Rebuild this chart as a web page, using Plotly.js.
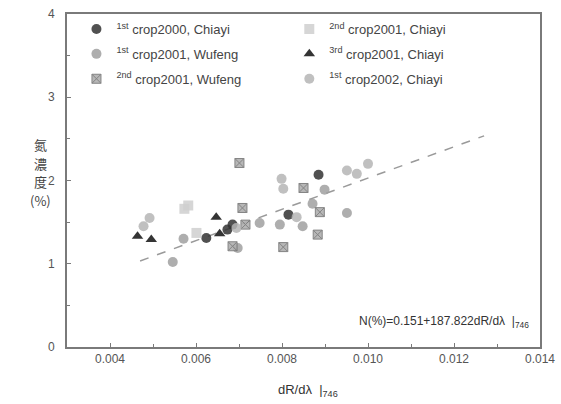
<!DOCTYPE html>
<html>
<head>
<meta charset="utf-8">
<script src="https://cdn.plot.ly/plotly-3.0.1.min.js"></script>
<style>html,body{margin:0;padding:0;background:#fff}#chart{width:561px;height:404px}</style>
</head>
<body>
<div id="chart"></div>
<script>
// Series data
const c2000Chiayi_x = [0.00624, 0.00673, 0.00685, 0.00815, 0.00885];
const c2000Chiayi_y = [1.31, 1.41, 1.47, 1.59, 2.07];

const c2001Chiayi2_x = [0.00573, 0.00582, 0.00601];
const c2001Chiayi2_y = [1.66, 1.70, 1.37];

const c2001Wufeng1_x = [0.00546, 0.00571, 0.00697, 0.00748, 0.00795, 0.00848, 0.00871, 0.00951, 0.00899];
const c2001Wufeng1_y = [1.02, 1.30, 1.19, 1.49, 1.47, 1.45, 1.72, 1.61, 1.89];

const c2001Chiayi3_x = [0.00464, 0.00496, 0.00647, 0.00655];
const c2001Chiayi3_y = [1.33, 1.29, 1.56, 1.36];

const c2001Wufeng2_x = [0.00701, 0.00850, 0.00888, 0.00708, 0.00715, 0.00685, 0.00803, 0.00883];
const c2001Wufeng2_y = [2.21, 1.91, 1.62, 1.67, 1.47, 1.21, 1.20, 1.35];

const c2002Chiayi1_x = [0.00492, 0.00478, 0.00799, 0.00803, 0.00834, 0.00951, 0.00974, 0.01000, 0.00694];
const c2002Chiayi1_y = [1.55, 1.45, 2.02, 1.90, 1.56, 2.12, 2.08, 2.20, 1.43];

const fitIntercept = 0.151;
const fitSlope = 187.822;
const fitX = [0.0047, 0.0127];

const xTicks = [0.004, 0.006, 0.008, 0.010, 0.012, 0.014];
const yTicks = [0, 1, 2, 3, 4];
const yTitleChars = ['氮', '濃', '度', '(%)'];

const legendFont = {family: 'Liberation Sans, Arial, sans-serif', size: 13, color: '#444'};

function tr(x, y, name, symbol, color, legend, group, extra) {
  return Object.assign({
    type: 'scatter', mode: 'markers', x: x, y: y, name: name,
    legend: legend, legendgroup: group,
    marker: {symbol: symbol, size: 10, color: color, opacity: 0.85, line: {width: 0}}
  }, extra || {});
}

const traces = [
  {type: 'scatter', mode: 'lines', x: fitX, y: fitX.map(v => fitIntercept + fitSlope * v),
   line: {color: '#9a9a9a', width: 1.5, dash: 'dash'}, showlegend: false, hoverinfo: 'skip'},
  tr(c2000Chiayi_x, c2000Chiayi_y, '<sup>1st</sup> crop2000, Chiayi', 'circle', '#333333', 'legend', 'g1'),
  tr(c2001Wufeng1_x, c2001Wufeng1_y, '<sup>1st</sup> crop2001, Wufeng', 'circle', '#a0a0a0', 'legend', 'g2'),
  tr(c2001Wufeng2_x, c2001Wufeng2_y, '<sup>2nd</sup> crop2001, Wufeng', 'square-x', '#8a8a8a', 'legend', 'g3',
     {marker: {symbol: 'square-x', size: 9, color: '#b0b0b0', opacity: 0.9, line: {width: 1, color: '#777'}}}),
  tr(c2001Chiayi2_x, c2001Chiayi2_y, '<sup>2nd</sup> crop2001, Chiayi', 'square', '#cfcfcf', 'legend2', 'g4'),
  tr(c2001Chiayi3_x, c2001Chiayi3_y, '<sup>3rd</sup> crop2001, Chiayi', 'triangle-up', '#111111', 'legend2', 'g5'),
  tr(c2002Chiayi1_x, c2002Chiayi1_y, '<sup>1st</sup> crop2002, Chiayi', 'circle', '#b5b5b5', 'legend2', 'g6')
];

const axisBase = {
  showgrid: false, zeroline: false, showline: true, linecolor: '#7a7a7a', linewidth: 2,
  mirror: true, ticks: 'inside', ticklen: 4, tickcolor: '#7a7a7a', tickwidth: 1,
  tickfont: {family: 'Liberation Sans, Arial, sans-serif', size: 12, color: '#555'}
};

const annotations = [
  {xref: 'paper', yref: 'paper', x: 0.98, y: 0.075, xanchor: 'right', yanchor: 'middle', showarrow: false,
   text: 'N(%)=0.151+187.822dR/dλ  |<sub>746</sub>', font: {family: 'Liberation Sans, Arial, sans-serif', size: 12, color: '#333'}},
  {xref: 'paper', yref: 'paper', x: 0.51, y: -0.13, xanchor: 'center', yanchor: 'middle', showarrow: false,
   text: 'dR/dλ  |<sub>746</sub>', font: {family: 'Liberation Sans, Arial, sans-serif', size: 13, color: '#333'}}
];
const yTitlePx = [144, 163, 182, 200];
yTitleChars.forEach((c, i) => {
  annotations.push({xref: 'paper', yref: 'paper', x: -0.057, y: (347 - yTitlePx[i]) / 333,
    xanchor: 'center', yanchor: 'middle', showarrow: false, text: c,
    font: {family: 'Noto Sans CJK TC, sans-serif', size: 13, color: '#444'}});
});

const layout = {
  width: 561, height: 404,
  margin: {l: 67, r: 21, t: 14, b: 57},
  paper_bgcolor: '#fff', plot_bgcolor: '#fff',
  showlegend: true,
  xaxis: Object.assign({}, axisBase, {
    range: [0.003, 0.014], tickvals: xTicks, tickformat: '.3f',
    minor: {dtick: 0.001, ticks: 'inside', ticklen: 3, tickcolor: '#7a7a7a'}
  }),
  yaxis: Object.assign({}, axisBase, {
    range: [0, 4], tickvals: yTicks, ticklabelstandoff: 8,
    minor: {dtick: 0.5, ticks: 'inside', ticklen: 3, tickcolor: '#7a7a7a'}
  }),
  legend: {x: 0.02, y: 1.0, xanchor: 'left', yanchor: 'top', bgcolor: 'rgba(0,0,0,0)',
           font: legendFont, tracegroupgap: 5, itemwidth: 30},
  legend2: {x: 0.47, y: 1.0, xanchor: 'left', yanchor: 'top', bgcolor: 'rgba(0,0,0,0)',
            font: legendFont, tracegroupgap: 5, itemwidth: 30},
  annotations: annotations
};

Plotly.newPlot('chart', traces, layout, {displayModeBar: false, staticPlot: true});
</script>
</body>
</html>
